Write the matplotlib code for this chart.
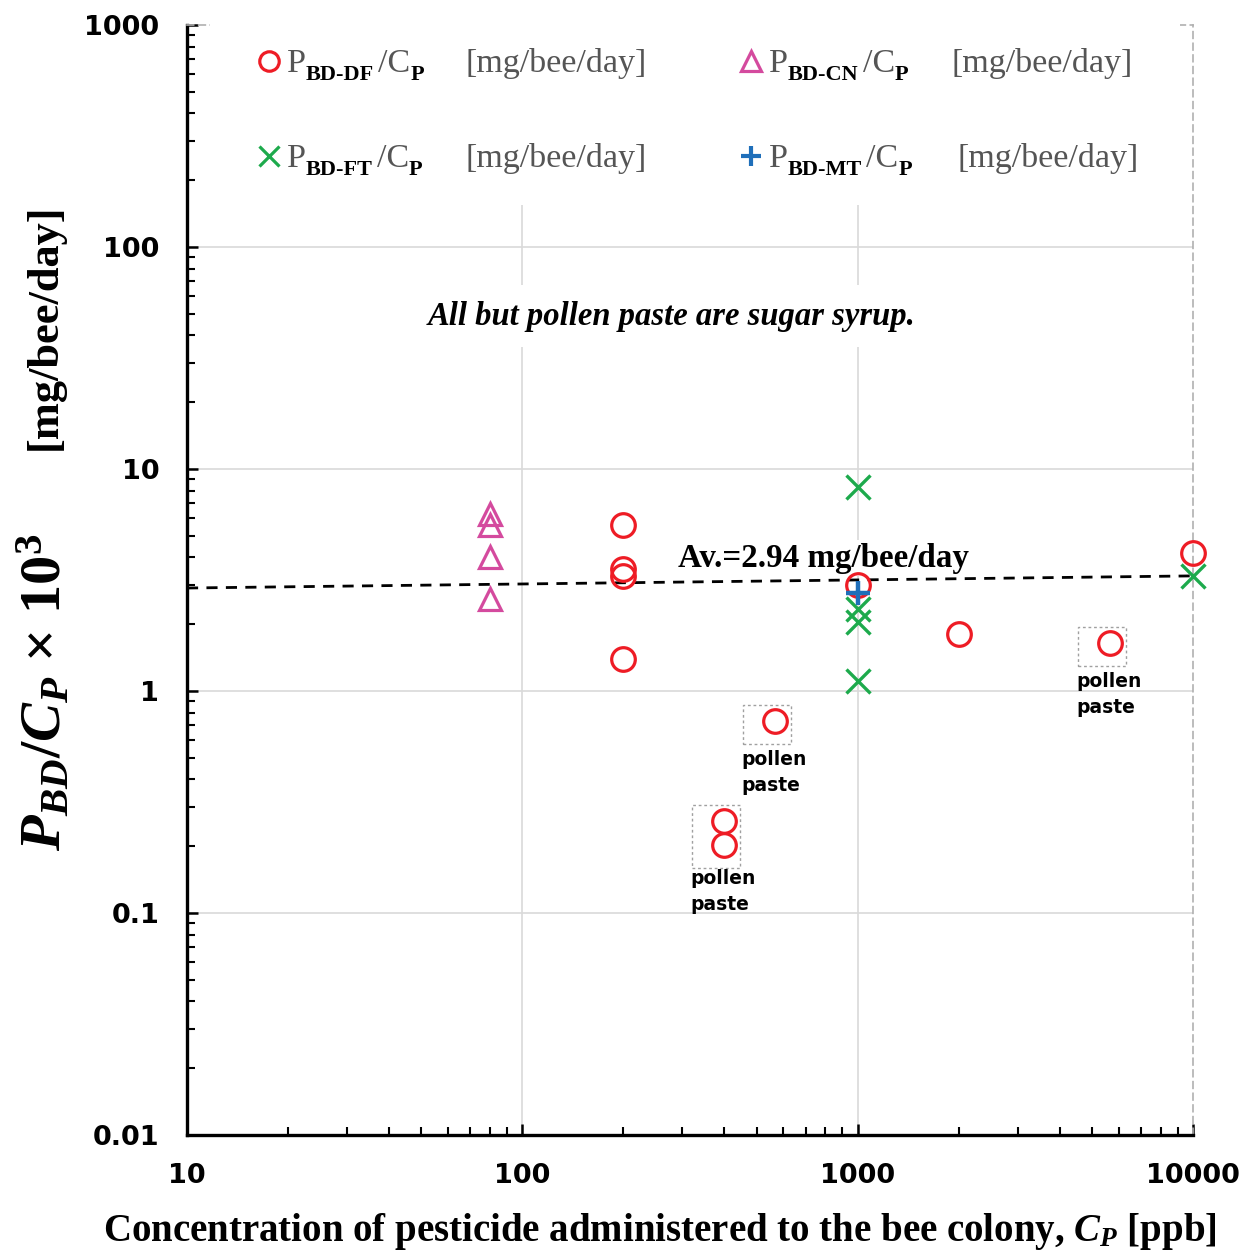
import matplotlib
matplotlib.use("Agg")
import matplotlib.pyplot as plt
from matplotlib.lines import Line2D
from matplotlib.patches import Rectangle
from matplotlib.transforms import IdentityTransform
from matplotlib.ticker import LogLocator, FixedLocator, FixedFormatter, NullFormatter

plt.rcParams['mathtext.fontset'] = 'custom'
plt.rcParams['mathtext.it'] = 'Liberation Serif:italic:bold'
plt.rcParams['mathtext.rm'] = 'Liberation Serif:bold'
plt.rcParams['mathtext.bf'] = 'Liberation Serif:bold'

# ---------------- data ----------------
cn_x = [80, 80, 80, 80]
cn_y = [6.3, 5.6, 4.0, 2.6]
df_x = [200, 200, 200, 200, 400, 400, 567, 1000, 2000, 5660, 10000]
df_y = [5.6, 3.55, 3.3, 1.39, 0.26, 0.202, 0.733, 3.0, 1.81, 1.65, 4.19]
ft_x = [1000, 1000, 1000, 1000, 10000]
ft_y = [8.3, 2.34, 2.05, 1.11, 3.3]
mt_x = [1000]
mt_y = [2.76]
avg_x = [10, 10000]
avg_y = [2.91, 3.30]
pollen_groups = [([400, 400], [0.26, 0.202]), ([567], [0.733]), ([5660], [1.65])]
x_ticks = [10, 100, 1000, 10000]
x_labels = ["10", "100", "1000", "10000"]
y_ticks = [0.01, 0.1, 1, 10, 100, 1000]
y_labels = ["0.01", "0.1", "1", "10", "100", "1000"]

C_DF = '#ee1c25'
C_CN = '#d44a9e'
C_FT = '#1daa4c'
C_MT = '#1f6fba'
GRID = '#d9d9d9'

W, H = 1253, 1257
fig = plt.figure(figsize=(W / 100, H / 100), dpi=100)
ax = fig.add_axes([187 / W, 1 - 1135 / H, (1193 - 187) / W, (1135 - 25) / H])
ax.set_xscale('log')
ax.set_yscale('log')
ax.set_xlim(10, 10000)
ax.set_ylim(0.01, 1000)

# grid
for v in [100, 1000]:
    ax.axvline(v, color=GRID, lw=1.2, zorder=0.5)
for v in [0.1, 1, 10, 100]:
    ax.axhline(v, color=GRID, lw=1.2, zorder=0.5)

# spines
for s in ['left', 'bottom']:
    ax.spines[s].set_linewidth(2.4)
    ax.spines[s].set_color('black')
for s in ['right', 'top']:
    ax.spines[s].set_color('#b0b0b0')
    ax.spines[s].set_linewidth(1.2)
    ax.spines[s].set_linestyle((0, (4, 3)))

ax.xaxis.set_major_locator(FixedLocator(x_ticks))
ax.xaxis.set_major_formatter(FixedFormatter(x_labels))
ax.xaxis.set_minor_locator(LogLocator(base=10, subs=range(2, 10)))
ax.xaxis.set_minor_formatter(NullFormatter())
ax.yaxis.set_major_locator(FixedLocator(y_ticks))
ax.yaxis.set_major_formatter(FixedFormatter(y_labels))
ax.yaxis.set_minor_locator(LogLocator(base=10, subs=range(2, 10)))
ax.yaxis.set_minor_formatter(NullFormatter())
ax.tick_params(which='both', direction='in', top=False, right=False, color='black')
ax.tick_params(which='major', length=8, width=1.8)
ax.tick_params(which='minor', length=5.5, width=1.5)
ax.tick_params(axis='y', which='major', pad=20)
ax.tick_params(axis='x', which='major', pad=20)
for lab in ax.get_xticklabels() + ax.get_yticklabels():
    lab.set_fontfamily('DejaVu Sans')
    lab.set_fontweight('heavy')
    lab.set_fontsize(19.5)

# white legend background covering grid/top spine
ax.add_patch(Rectangle(((210 - 187) / (1193 - 187), (1135 - 205) / (1135 - 25)),
                       (1180 - 210) / (1193 - 187), 1.0, transform=ax.transAxes,
                       facecolor='white', edgecolor='none', zorder=2.6, clip_on=False))

# average line
ax.plot(avg_x, avg_y, color='black', lw=2.0, ls=(0, (4, 3)), zorder=3)

# data
ax.plot(cn_x, cn_y, ls='none', marker='^', ms=16, mfc='none', mec=C_CN, mew=2.3, zorder=4, clip_on=False)
ax.plot(df_x, df_y, ls='none', marker='o', ms=17, mfc='none', mec=C_DF, mew=2.3, zorder=5, clip_on=False)
ax.plot(ft_x, ft_y, ls='none', marker='x', ms=17, mec=C_FT, mew=2.4, zorder=4, clip_on=False)
ax.plot(mt_x, mt_y, ls='none', marker='+', ms=17, mec=C_MT, mew=3.2, zorder=6, clip_on=False)

# texts
ax.text((672 - 187) / (1193 - 187), (1135 - 316) / (1135 - 25), "All but pollen paste are sugar syrup.",
        transform=ax.transAxes,
        fontsize=23.5, fontfamily='Liberation Serif', fontweight='bold', fontstyle='italic',
        ha='center', va='center', zorder=3,
        bbox=dict(facecolor='white', edgecolor='none', pad=11))
ax.text((678 - 187) / (1193 - 187), (1135 - 558) / (1135 - 25), "Av.=2.94 mg/bee/day",
        transform=ax.transAxes, fontsize=23.8, fontfamily='Liberation Serif', fontweight='bold',
        ha='left', va='center', zorder=3,
        bbox=dict(facecolor='white', edgecolor='none', pad=2))

# pollen paste boxes and labels
fig.canvas.draw()
label_gap = [10, 16, 16]
for (gx, gy), gap in zip(pollen_groups, label_gap):
    pts = [ax.transData.transform((a, b)) for a, b in zip(gx, gy)]
    px = pts[0][0]
    ytop = max(p[1] for p in pts)
    ybot = min(p[1] for p in pts)
    x0, x1 = px - 32, px + 16
    y0, y1 = ybot - 23, ytop + 16
    fig.add_artist(Rectangle((x0, y0), x1 - x0, y1 - y0, transform=IdentityTransform(),
                             facecolor='none', edgecolor='#a0a0a0', lw=1.0, ls=(0, (2, 2))))
    for k, word in enumerate(["pollen", "paste"]):
        fig.text((x0 - 2) / W, (y0 - gap - 26 * k) / H, word, fontsize=13.5, fontweight='heavy',
                 fontfamily='DejaVu Sans', ha='left', va='center')

# legend
renderer = fig.canvas.get_renderer()
GRAY = '#555555'


def rich(x_px, base_px, pieces):
    x = x_px
    for s, size, color, weight, dy, gap in pieces:
        x += gap
        t = fig.text(x / W, 1 - (base_px + dy) / H, s, fontsize=size, color=color,
                     fontweight=weight, fontfamily='Liberation Serif', ha='left', va='baseline')
        x += t.get_window_extent(renderer=renderer).width


entries = [
    (269, 61, 'o', C_DF, 'DF', 466),
    (751, 61, '^', C_CN, 'CN', 952),
    (269, 156, 'x', C_FT, 'FT', 465),
    (751, 156, '+', C_MT, 'MT', 957),
]
for mx, my, mk, col, code, ux in entries:
    kw = dict(mfc='none', mec=col, mew=2.3 if mk != '+' else 3.0)
    ms = 14 if mk == 'o' else 15
    fig.add_artist(Line2D([mx], [H - my], transform=IdentityTransform(), marker=mk, ms=ms, ls='none', **kw))
    base = my + 11
    rich(mx + 18, base, [("P", 24.5, GRAY, 'normal', 0, 0),
                         ("BD-" + code, 16, 'black', 'bold', 8, 0),
                         ("/C", 24.5, GRAY, 'normal', 0, 4),
                         ("P", 16, 'black', 'bold', 8, 0)])
    fig.text(ux / W, 1 - base / H, "[mg/bee/day]", fontsize=24.5, color=GRAY,
             fontfamily='Liberation Serif', ha='left', va='baseline')

# axis labels
fig.text(45 / W, 1 - 692 / H, r"$P_{BD}/C_P$ × 10$^{3}$", rotation=90, fontsize=42,
         fontfamily='Liberation Serif', fontweight='bold', ha='center', va='center')
fig.text(45 / W, 1 - 327 / H, "[mg/bee/day]", rotation=90, fontsize=32,
         fontfamily='Liberation Serif', fontweight='bold', ha='center', va='center')
fig.text(660 / W, 1 - 1232 / H, r"Concentration of pesticide administered to the bee colony, $C_P$ [ppb]",
         fontsize=28, fontfamily='Liberation Serif', fontweight='bold', ha='center', va='center')

fig.savefig("out.png", dpi=100)
